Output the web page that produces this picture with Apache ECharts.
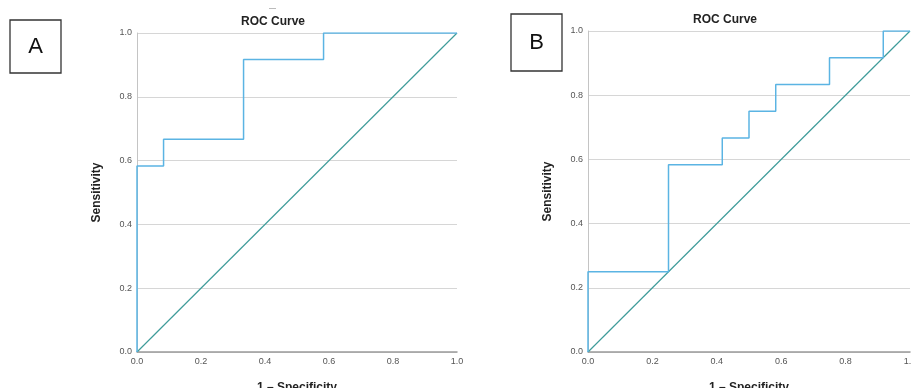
<!DOCTYPE html>
<html>
<head>
<meta charset="utf-8">
<script src="https://cdn.jsdelivr.net/npm/echarts@6/dist/echarts.min.js"></script>
<style>
  html, body { margin: 0; padding: 0; background: #fff; }
  #chart { width: 911px; height: 388px; }
</style>
</head>
<body>
<div id="chart"></div>
<script>
// panel A: ROC points (1 - specificity, sensitivity)
var fprA = [0, 0, 0.083, 0.083, 0.333, 0.333, 0.583, 0.583, 1];
var tprA = [0, 0.583, 0.583, 0.667, 0.667, 0.917, 0.917, 1, 1];
// panel B
var fprB = [0, 0, 0.25, 0.25, 0.417, 0.417, 0.5, 0.5, 0.583, 0.583, 0.75, 0.75, 0.917, 0.917, 1];
var tprB = [0, 0.25, 0.25, 0.583, 0.583, 0.667, 0.667, 0.75, 0.75, 0.833, 0.833, 0.917, 0.917, 1, 1];
var refLine = [0, 1];
var tickLabels = ['0.0', '0.2', '0.4', '0.6', '0.8', '1.0'];
var panelLetters = ['A', 'B'];

var font = 'Liberation Sans';

function pairs(xs, ys) {
    return xs.map(function(x, i) { return [x, ys[i]]; });
}

function fmt(v) {
    return tickLabels[Math.round(v * 5)];
}

function xAxisFor(idx) {
    return {
        type: 'value', gridIndex: idx, min: 0, max: 1, interval: 0.2,
        name: '1 \u2013 Specificity', nameLocation: 'middle', nameGap: 30,
        nameTextStyle: { fontFamily: font, fontSize: 12, fontWeight: 'bold', color: '#222' },
        axisLine: { show: true, lineStyle: { color: '#9a9a9a', width: 1.5 } },
        axisTick: { show: false },
        axisLabel: { formatter: fmt, fontFamily: font, fontSize: 9, color: '#555', margin: 5 },
        splitLine: { show: false }
    };
}

function yAxisFor(idx) {
    return {
        type: 'value', gridIndex: idx, min: 0, max: 1, interval: 0.2,
        name: 'Sensitivity', nameLocation: 'middle', nameGap: 34,
        nameTextStyle: { fontFamily: font, fontSize: 12, fontWeight: 'bold', color: '#222' },
        axisLine: { show: true, lineStyle: { color: '#c4c4c4', width: 1 } },
        axisTick: { show: false },
        axisLabel: { formatter: fmt, fontFamily: font, fontSize: 9, color: '#555', margin: 5 },
        splitLine: { show: true, lineStyle: { color: '#d6d6d6', width: 1 } }
    };
}

function curve(idx, data) {
    return {
        type: 'line', xAxisIndex: idx, yAxisIndex: idx, data: data,
        symbol: 'none', animation: false,
        lineStyle: { color: '#5bb4e3', width: 1.5 }, z: 3
    };
}

function diag(idx) {
    return {
        type: 'line', xAxisIndex: idx, yAxisIndex: idx,
        data: pairs(refLine, refLine), symbol: 'none', animation: false,
        lineStyle: { color: '#3f9c9a', width: 1.2 }, z: 2
    };
}

var myChart = echarts.init(document.getElementById('chart'));

var option = {
    backgroundColor: '#fff',
    animation: false,
    grid: [
        { left: 137, top: 33, width: 320, height: 319, outerBoundsMode: 'none', containLabel: false },
        { left: 588, top: 31, width: 322, height: 321, outerBoundsMode: 'none', containLabel: false }
    ],
    xAxis: [xAxisFor(0), xAxisFor(1)],
    yAxis: [yAxisFor(0), yAxisFor(1)],
    series: [
        diag(0), curve(0, pairs(fprA, tprA)),
        diag(1), curve(1, pairs(fprB, tprB))
    ],
    graphic: [
        { type: 'rect', shape: { x: 10, y: 20, width: 51, height: 53 },
          style: { fill: '#fff', stroke: '#333', lineWidth: 1.3 } },
        { type: 'text', x: 35.5, y: 46.5,
          style: { text: panelLetters[0], font: '22px "Liberation Sans"', fill: '#111', align: 'center', verticalAlign: 'middle' } },
        { type: 'rect', shape: { x: 511, y: 14, width: 51, height: 57 },
          style: { fill: '#fff', stroke: '#333', lineWidth: 1.3 } },
        { type: 'text', x: 536.5, y: 42.5,
          style: { text: panelLetters[1], font: '22px "Liberation Sans"', fill: '#111', align: 'center', verticalAlign: 'middle' } },
        { type: 'text', x: 273, y: 22,
          style: { text: 'ROC Curve', font: 'bold 12px "Liberation Sans"', fill: '#222', align: 'center', verticalAlign: 'middle' } },
        { type: 'text', x: 725, y: 20,
          style: { text: 'ROC Curve', font: 'bold 12px "Liberation Sans"', fill: '#222', align: 'center', verticalAlign: 'middle' } },
        { type: 'rect', shape: { x: 269, y: 8, width: 7, height: 1 },
          style: { fill: '#bbb' } }
    ]
};

myChart.setOption(option);
</script>
</body>
</html>
